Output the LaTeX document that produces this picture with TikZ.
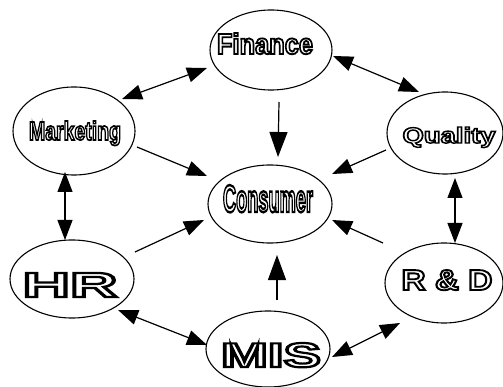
\documentclass[tikz,border=0pt]{standalone}
\usepackage{fontspec}
\setmainfont{Liberation Sans}
\usetikzlibrary{shapes.geometric,arrows.meta}
% hollow (stroked) lettering: #1 width, #2 height, #3 sideways offset, #4 baseline raise, #5 text
\newcommand{\hollow}[5]{\raisebox{#4}[0pt][0pt]{\makebox[0pt]{\hspace*{#3}\hspace*{#3}%
  \resizebox{#1}{#2}{\fontsize{22}{22}\selectfont\bfseries
  \special{pdf:literal 1 Tr 1.4 w 0 G}#5\special{pdf:literal 0 Tr}}}}}

\tikzset{
  unit/.style={ellipse,draw,line width=1.1pt,inner sep=0pt,outer sep=0pt},
  link/.style={line width=1.2pt,-{Triangle[length=20pt,width=15pt]}},
  biglink/.style={line width=1.2pt,-{Triangle[length=25pt,width=18pt]}},
  both/.style={line width=1.2pt,{Triangle[length=20pt,width=15pt]}-{Triangle[length=20pt,width=15pt]}},
}

\begin{document}
\begin{tikzpicture}[x=1pt,y=-1pt]
\useasboundingbox (0,0) rectangle (503,387);

% departments
\node[unit,minimum width=122pt,minimum height=80pt] (fin) at (271,50) {\hollow{96pt}{21pt}{-6pt}{-4pt}{Finance}};
\node[unit,minimum width=122pt,minimum height=88pt] (mkt) at (74,131) {\hollow{92pt}{19pt}{1pt}{-9pt}{Marketing}};
\node[unit,minimum width=116pt,minimum height=82pt] (qua) at (445,133) {\hollow{93pt}{16pt}{4pt}{-10pt}{Quality}};
\node[unit,minimum width=124pt,minimum height=78pt] (con) at (270,204) {\hollow{90pt}{27pt}{-2pt}{-8pt}{Consumer}};
\node[unit,minimum width=124pt,minimum height=78pt] (hr) at (72,279) {\hollow{95pt}{24pt}{-2pt}{-18pt}{HR}};
\node[unit,minimum width=118pt,minimum height=80pt] (rd) at (444,283) {\hollow{91pt}{20pt}{3pt}{-7pt}{R \& D}};
\node[unit,minimum width=124pt,minimum height=76pt] (mis) at (268,349) {\hollow{100pt}{24pt}{3pt}{-18pt}{MIS}};

% two-way links around the ring
\draw[both] ([shift={(48,-32)}]mkt.center) -- ([shift={(-64,18)}]fin.center);
\draw[both] ([shift={(62,6)}]fin.center) -- ([shift={(-26,-41)}]qua.center);
\draw[both] ([shift={(-9,41)}]mkt.center) -- ([shift={(-7,-39)}]hr.center);
\draw[both] ([shift={(10,45)}]qua.center) -- ([shift={(11,-40)}]rd.center);
\draw[both] ([shift={(46,31)}]hr.center) -- ([shift={(-61,-4)}]mis.center);
\draw[both] ([shift={(64,8)}]mis.center) -- ([shift={(-44,40)}]rd.center);

% links into the consumer
\draw[biglink] ([shift={(8,52)}]fin.center) -- ([shift={(8,-47)}]con.center);
\draw[link] ([shift={(63,16)}]mkt.center) -- ([shift={(-63,-28)}]con.center);
\draw[link] ([shift={(-59,17)}]qua.center) -- ([shift={(62,-30)}]con.center);
\draw[link] ([shift={(63,-27)}]hr.center) -- ([shift={(-66,16)}]con.center);
\draw[link] ([shift={(-61,-40)}]rd.center) -- ([shift={(62,16)}]con.center);
\draw[biglink] ([shift={(9,-49)}]mis.center) -- ([shift={(7,51)}]con.center);
\end{tikzpicture}
\end{document}
